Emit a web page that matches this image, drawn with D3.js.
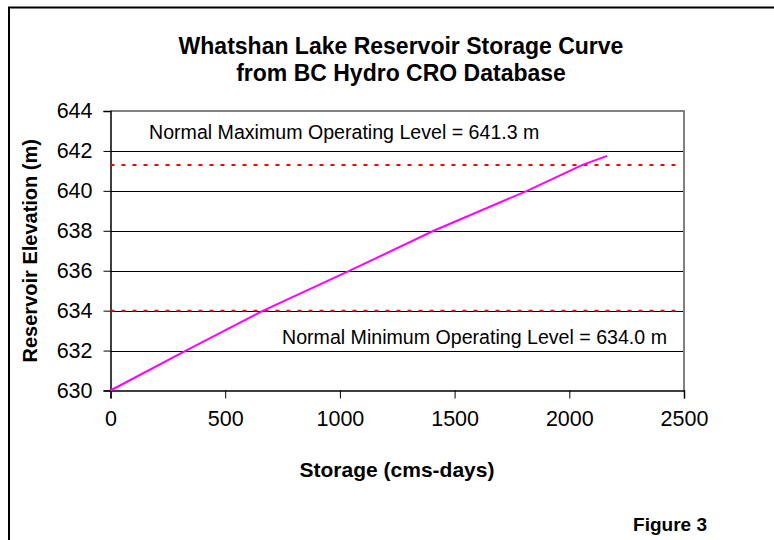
<!DOCTYPE html>
<html>
<head>
<meta charset="utf-8">
<script src="https://cdn.jsdelivr.net/npm/d3@7"></script>
<style>
  body { margin: 0; background: #fff; }
  svg { display: block; font-family: "Liberation Sans", Arial, sans-serif; }
</style>
</head>
<body>
<div id="chart"></div>
<script>
// storage curve
const storage = [0, 329, 666, 1043, 1409, 1816, 2058, 2165];
const elevation = [630, 632, 634, 636, 638, 640, 641.3, 641.75];

const xTicks = [0, 500, 1000, 1500, 2000, 2500];
const yTicks = [630, 632, 634, 636, 638, 640, 642, 644];

const levelValues = [641.3, 634.0];
const levelLabels = ['Normal Maximum Operating Level = 641.3 m', 'Normal Minimum Operating Level = 634.0 m'];

const width = 774, height = 540;
const margin = {left: 110.5, right: 90, top: 111, bottom: 149.5};

const svg = d3.select('#chart').append('svg')
    .attr('width', width)
    .attr('height', height);

// outer frame (runs off the right and bottom edge)
svg.append('rect')
    .attr('x', 9).attr('y', 7.5)
    .attr('width', width + 20).attr('height', height + 20)
    .attr('fill', 'none').attr('stroke', '#000').attr('stroke-width', 2);

const x = d3.scaleLinear().domain([0, 2500]).range([margin.left, width - margin.right]);
const y = d3.scaleLinear().domain([630, 644]).range([height - margin.bottom, margin.top]);

// gridlines
svg.append('g')
    .selectAll('line')
    .data(yTicks.slice(1, -1))
    .enter().append('line')
    .attr('x1', x(0)).attr('x2', x(2500))
    .attr('y1', d => Math.round(y(d)) + 0.5).attr('y2', d => Math.round(y(d)) + 0.5)
    .attr('stroke', '#000').attr('stroke-width', 1);

// top and right plot border (grey)
svg.append('path')
    .attr('d', 'M' + x(0) + ',' + y(644) + 'H' + x(2500) + 'V' + y(630))
    .attr('fill', 'none').attr('stroke', '#808080').attr('stroke-width', 2);

// axes
const yAxis = d3.axisLeft(y).tickValues(yTicks).tickSize(7).tickPadding(11).tickFormat(d3.format('d'));
const gy = svg.append('g')
    .attr('transform', 'translate(' + x(0) + ',0)')
    .call(yAxis);
gy.select('.domain').attr('stroke', '#000').attr('stroke-width', 1.5);
gy.selectAll('text').attr('font-size', 21.5).attr('fill', '#000');

const xAxis = d3.axisBottom(x).tickValues(xTicks).tickSize(8).tickPadding(12).tickFormat(d3.format('d'));
const gx = svg.append('g')
    .attr('transform', 'translate(0,' + y(630) + ')')
    .call(xAxis);
gx.select('.domain').attr('stroke', '#000').attr('stroke-width', 1.5);
gx.selectAll('text').attr('font-size', 21.5).attr('fill', '#000');

// operating levels
svg.append('g')
    .selectAll('line')
    .data(levelValues)
    .enter().append('line')
    .attr('x1', x(0)).attr('x2', x(2470))
    .attr('y1', d => y(d)).attr('y2', d => y(d))
    .attr('stroke', '#ff0000').attr('stroke-width', 2)
    .attr('stroke-dasharray', '4,7');

// storage curve
const pts = storage.map((s, i) => [s, elevation[i]]);
svg.append('path')
    .datum(pts)
    .attr('d', d3.line().x(d => x(d[0])).y(d => y(d[1])))
    .attr('fill', 'none')
    .attr('stroke', '#ff00ff')
    .attr('stroke-width', 2);

// level labels
svg.append('text')
    .attr('x', 149).attr('y', 139)
    .attr('font-size', 19.6)
    .text(levelLabels[0]);
svg.append('text')
    .attr('x', 282).attr('y', 344)
    .attr('font-size', 19.6)
    .text(levelLabels[1]);

// titles
const title = svg.append('text')
    .attr('text-anchor', 'middle')
    .attr('font-weight', 'bold')
    .attr('font-size', 23);
title.append('tspan').attr('x', 401).attr('y', 54).text('Whatshan Lake Reservoir Storage Curve');
title.append('tspan').attr('x', 401).attr('y', 81).text('from BC Hydro CRO Database');

svg.append('text')
    .attr('x', 397).attr('y', 477)
    .attr('text-anchor', 'middle')
    .attr('font-weight', 'bold')
    .attr('font-size', 21)
    .text('Storage (cms-days)');

svg.append('text')
    .attr('transform', 'translate(37,' + ((y(630) + y(644)) / 2) + ') rotate(-90)')
    .attr('text-anchor', 'middle')
    .attr('font-weight', 'bold')
    .attr('font-size', 20)
    .text('Reservoir Elevation (m)');

svg.append('text')
    .attr('x', 707).attr('y', 531)
    .attr('text-anchor', 'end')
    .attr('font-weight', 'bold')
    .attr('font-size', 19)
    .text('Figure 3');
</script>
</body>
</html>
